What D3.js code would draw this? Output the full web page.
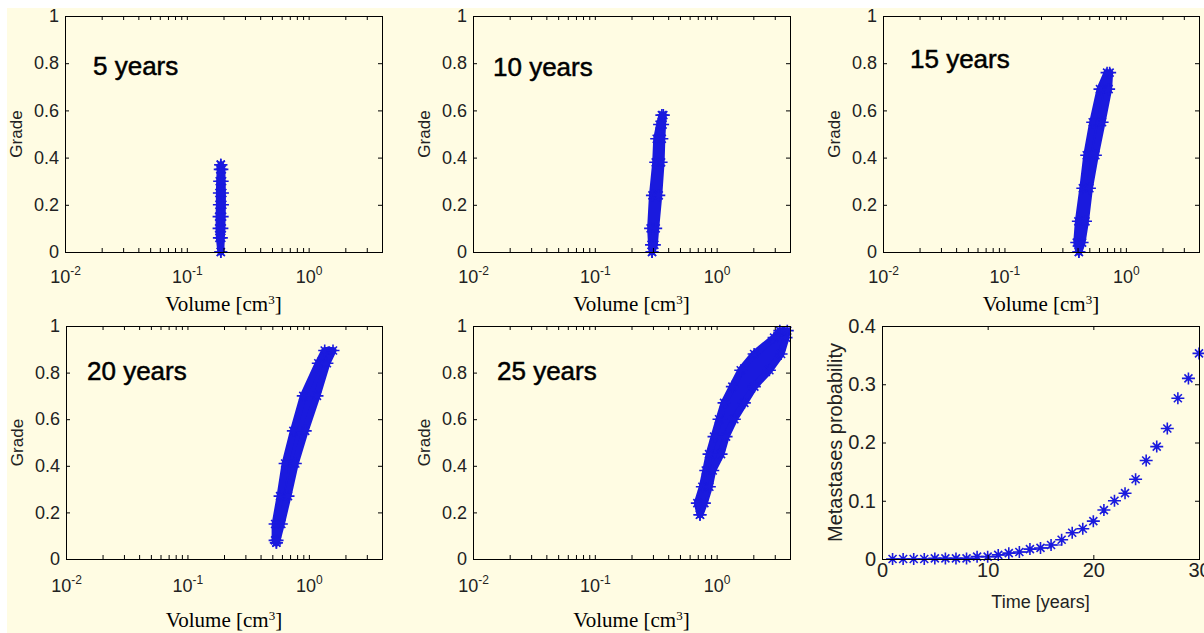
<!DOCTYPE html>
<html>
<head>
<meta charset="utf-8">
<script src="https://cdn.jsdelivr.net/npm/d3@7"></script>
<style>
  body { margin: 0; background: #fff; }
  svg { display: block; }
</style>
</head>
<body>
<div id="chart"></div>
<script>
// ---- data ----
const panelTitles = ["5 years", "10 years", "15 years", "20 years", "25 years"];

// each cloud: grade rows with the left / right volume edge of the band [cm3]
const grade5  = [0.00, 0.06, 0.10, 0.15, 0.20, 0.25, 0.30, 0.35, 0.37];
const volLo5  = [0.19, 0.185, 0.184, 0.184, 0.185, 0.185, 0.186, 0.188, 0.19];
const volHi5  = [0.19, 0.192, 0.194, 0.195, 0.196, 0.196, 0.195, 0.194, 0.19];

const grade10 = [0.00, 0.03, 0.10, 0.24, 0.38, 0.48, 0.54, 0.58];
const volLo10 = [0.295, 0.292, 0.287, 0.297, 0.316, 0.322, 0.34, 0.355];
const volHi10 = [0.295, 0.308, 0.316, 0.335, 0.35, 0.355, 0.36, 0.365];

const grade15 = [0.00, 0.04, 0.13, 0.27, 0.41, 0.55, 0.69, 0.76];
const volLo15 = [0.41, 0.394, 0.406, 0.442, 0.476, 0.533, 0.612, 0.70];
const volHi15 = [0.41, 0.436, 0.465, 0.501, 0.561, 0.637, 0.721, 0.735];

const grade20 = [0.07, 0.08, 0.15, 0.27, 0.41, 0.55, 0.70, 0.84, 0.895];
const volLo20 = [0.54, 0.527, 0.527, 0.579, 0.637, 0.745, 0.899, 1.195, 1.35];
const volHi20 = [0.54, 0.547, 0.593, 0.673, 0.773, 0.933, 1.166, 1.408, 1.58];

const grade25 = [0.19, 0.24, 0.31, 0.38, 0.45, 0.525, 0.60, 0.67, 0.74, 0.81, 0.88, 0.95, 0.98];
const volLo25 = [0.73, 0.694, 0.763, 0.814, 0.866, 0.952, 1.046, 1.15, 1.345, 1.577, 2.03, 2.96, 3.3];
const volHi25 = [0.73, 0.793, 0.871, 0.929, 1.087, 1.195, 1.397, 1.688, 2.04, 2.71, 3.38, 3.71, 3.8];

// metastases probability over time
const years    = [1, 2, 3, 4, 5, 6, 7, 8, 9, 10, 11, 12, 13, 14, 15, 16, 17, 18, 19, 20, 21, 22, 23, 24, 25, 26, 27, 28, 29, 30];
const metaProb = [0, 0, 0, 0, 0.001, 0.001, 0.001, 0.001, 0.004, 0.004, 0.007, 0.010, 0.012, 0.017, 0.019,
                  0.024, 0.033, 0.045, 0.052, 0.065, 0.084, 0.100, 0.113, 0.137, 0.169, 0.193, 0.224, 0.276, 0.310, 0.353];

const volumeDomain = [0.01, 4];
const volumeMajor  = [0.01, 0.1, 1];
const gradeTicks   = [0, 0.2, 0.4, 0.6, 0.8, 1];
const timeTicks    = [0, 10, 20, 30];
const probTicks    = [0, 0.1, 0.2, 0.3, 0.4];

// ---- layout / style ----
const W = 1204, H = 633;
const blue = "#1a1ade";
const cream = "#fffce3";
const sans = "'Liberation Sans', Arial, sans-serif";
const serif = "'Liberation Serif', 'Times New Roman', serif";

const layout = [
  {x: 65,  y: 16,  w: 317, h: 236, tx: 28, ty: 59, lab: 59, tick: 31},
  {x: 473, y: 16,  w: 317, h: 236, tx: 20, ty: 60, lab: 59, tick: 31},
  {x: 883, y: 16,  w: 316, h: 236, tx: 27, ty: 52, lab: 59, tick: 31},
  {x: 66,  y: 326, w: 316, h: 233, tx: 21, ty: 54, lab: 68, tick: 33},
  {x: 473, y: 326, w: 317, h: 233, tx: 24, ty: 54, lab: 68, tick: 33},
  {x: 882, y: 326, w: 317, h: 233}
];

const clouds = [
  {g: grade5,  lo: volLo5,  hi: volHi5},
  {g: grade10, lo: volLo10, hi: volHi10},
  {g: grade15, lo: volLo15, hi: volHi15},
  {g: grade20, lo: volLo20, hi: volHi20},
  {g: grade25, lo: volLo25, hi: volHi25}
];

const svg = d3.select("#chart").append("svg")
  .attr("width", W).attr("height", H);

svg.append("rect").attr("width", W).attr("height", H).attr("fill", "#fff");
svg.append("rect").attr("x", 7).attr("y", 8)
  .attr("width", W - 7).attr("height", H - 8).attr("fill", cream);

// matlab style '*' marker
const starPath = "M-6.5,0H6.5M0,-6V6M-4,-4L4,4M-4,4L4,-4";

function drawStars(g, pts) {
  g.selectAll(null).data(pts).enter().append("path")
    .attr("d", starPath)
    .attr("transform", d => "translate(" + d[0] + "," + d[1] + ")")
    .attr("fill", "none")
    .attr("stroke", blue)
    .attr("stroke-width", 1.6);
}

// inward ticks on all four sides, labels left and bottom
function frame(g, L, x, y, xVals, yVals, yFmt, fontSize) {
  g.append("g").attr("transform", "translate(0," + L.h + ")")
    .call(d3.axisBottom(x).tickValues(xVals).tickSize(-4).tickFormat(""))
    .call(s => s.select(".domain").remove());
  g.append("g")
    .call(d3.axisTop(x).tickValues(xVals).tickSize(-4).tickFormat(""))
    .call(s => s.select(".domain").remove());
  g.append("g").attr("transform", "translate(" + L.w + ",0)")
    .call(d3.axisRight(y).tickValues(yVals).tickSize(-4).tickFormat(""))
    .call(s => s.select(".domain").remove());
  g.append("g")
    .call(d3.axisLeft(y).tickValues(yVals).tickSize(-4).tickPadding(6).tickFormat(yFmt))
    .call(s => s.select(".domain").remove())
    .call(s => s.selectAll("text")
      .attr("font-family", sans).attr("font-size", fontSize).attr("fill", "#222"));
  g.append("rect")
    .attr("x", 0.5).attr("y", 0.5).attr("width", L.w).attr("height", L.h)
    .attr("fill", "none").attr("stroke", "#000").attr("stroke-width", 1);
}

function drawCloud(i) {
  const L = layout[i], c = clouds[i];
  const x = d3.scaleLog().domain(volumeDomain).range([0, L.w]);
  const y = d3.scaleLinear().domain([0, 1]).range([L.h, 0]);
  const g = svg.append("g").attr("transform", "translate(" + L.x + "," + L.y + ")");

  const rows = c.g.map((v, k) => ({g: v, lo: c.lo[k], hi: c.hi[k]}));

  g.append("path").datum(rows)
    .attr("d", d3.area().y(d => y(d.g)).x0(d => x(d.lo)).x1(d => x(d.hi)))
    .attr("fill", blue).attr("stroke", blue)
    .attr("stroke-width", 7).attr("stroke-linejoin", "round");

  const pts = [];
  rows.forEach(d => {
    pts.push([x(d.lo), y(d.g)]);
    pts.push([x(d.hi), y(d.g)]);
  });
  drawStars(g, pts);

  frame(g, L, x, y, x.ticks(), gradeTicks, d3.format("~g"), 18);

  // 10^n labels
  g.selectAll(null).data(volumeMajor).enter().append("text")
    .attr("x", d => x(d) + 0.5).attr("y", L.h + L.tick)
    .attr("text-anchor", "middle")
    .attr("font-family", sans).attr("font-size", 18).attr("fill", "#222")
    .each(function(d) {
      const t = d3.select(this);
      t.append("tspan").text("10");
      t.append("tspan").attr("dy", -8).attr("font-size", 12).text(Math.round(Math.log10(d)));
    });

  // axis titles
  const xl = g.append("text")
    .attr("x", L.w / 2).attr("y", L.h + L.lab)
    .attr("text-anchor", "middle")
    .attr("font-family", serif).attr("font-size", 21).attr("fill", "#000");
  xl.append("tspan").text("Volume [cm");
  xl.append("tspan").attr("dy", -7).attr("font-size", 13).text("3");
  xl.append("tspan").attr("dy", 7).text("]");

  g.append("text")
    .attr("transform", "translate(" + (-43) + "," + (L.h / 2) + ") rotate(-90)")
    .attr("text-anchor", "middle")
    .attr("font-family", sans).attr("font-size", 17).attr("fill", "#222")
    .text("Grade");

  g.append("text")
    .attr("x", L.tx).attr("y", L.ty)
    .attr("font-family", sans).attr("font-size", 26).attr("fill", "#000")
    .attr("stroke", "#000").attr("stroke-width", 0.5)
    .text(panelTitles[i]);
}

clouds.forEach((c, i) => drawCloud(i));

// ---- metastases probability panel ----
(function() {
  const L = layout[5];
  const x = d3.scaleLinear().domain([0, 30]).range([0, L.w]);
  const y = d3.scaleLinear().domain([0, 0.4]).range([L.h, 0]);
  const g = svg.append("g").attr("transform", "translate(" + L.x + "," + L.y + ")");
  const pts = years.map((t, k) => [t, metaProb[k]]);

  // low stair line under the early markers
  g.append("path").datum(pts.slice(0, 17))
    .attr("d", d3.line().x(d => x(d[0])).y(d => y(d[1])).curve(d3.curveStepAfter))
    .attr("fill", "none").attr("stroke", blue).attr("stroke-width", 1.2);

  drawStars(g, pts.map(d => [x(d[0]), y(d[1])]));
  g.selectAll(null).data(pts).enter().append("circle")
    .attr("cx", d => x(d[0])).attr("cy", d => y(d[1])).attr("r", 1.8).attr("fill", blue);

  frame(g, L, x, y, timeTicks, probTicks, d3.format("~g"), 20);

  g.selectAll(null).data(timeTicks).enter().append("text")
    .attr("x", d => x(d) + 0.5).attr("y", L.h + 18)
    .attr("text-anchor", "middle")
    .attr("font-family", sans).attr("font-size", 20).attr("fill", "#222")
    .text(d => d);

  g.append("text")
    .attr("x", L.w / 2).attr("y", L.h + 49)
    .attr("text-anchor", "middle")
    .attr("font-family", sans).attr("font-size", 18).attr("fill", "#222")
    .text("Time [years]");

  g.append("text")
    .attr("transform", "translate(" + (-40) + "," + (L.h / 2) + ") rotate(-90)")
    .attr("text-anchor", "middle")
    .attr("font-family", sans).attr("font-size", 20).attr("fill", "#222")
    .text("Metastases probability");
})();
</script>
</body>
</html>
